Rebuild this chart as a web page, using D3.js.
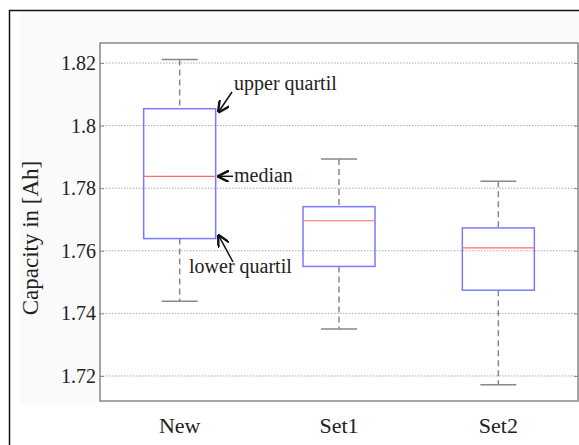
<!DOCTYPE html>
<html>
<head>
<meta charset="utf-8">
<script src="https://cdn.jsdelivr.net/npm/d3@7"></script>
<style>
  body { margin: 0; background: #fff; }
  svg text { font-family: "Liberation Serif", "DejaVu Serif", serif; fill: #222; }
</style>
</head>
<body>
<div class="canvas-container"></div>
<script>
// box plot values
const categories = ["New", "Set1", "Set2"]
const whiskerHigh = [1.8211, 1.7893, 1.7822]
const upperQuartil = [1.8054, 1.7741, 1.7673]
const median = [1.7838, 1.7696, 1.7609]
const lowerQuartil = [1.7639, 1.755, 1.7474]
const whiskerLow = [1.7439, 1.735, 1.7172]
const yTicks = [1.72, 1.74, 1.76, 1.78, 1.8, 1.82]

const w = 579
const h = 445
const m = { left: 100, right: 578, top: 43, bottom: 401 }

const svg = d3
  .select(".canvas-container")
  .append("svg")
  .attr("width", w)
  .attr("height", h)

// faint page panel + outer frame
svg.append("rect")
  .attr("x", 20).attr("y", 12)
  .attr("width", w - 20).attr("height", 391)
  .attr("fill", "#fafafa")
svg.append("path")
  .attr("d", `M9.5,${h} V10.5 H${w}`)
  .attr("fill", "none")
  .attr("stroke", "#111")
  .attr("stroke-width", 1.5)

const x = d3.scaleBand().domain(categories).range([m.left, m.right])
const y = d3.scaleLinear().domain([1.712, 1.8264]).range([m.bottom, m.top])

svg.append("rect")
  .attr("x", m.left).attr("y", m.top)
  .attr("width", m.right - m.left).attr("height", m.bottom - m.top)
  .attr("fill", "#fff")

// dotted grid
svg.append("g")
  .selectAll("line")
  .data(yTicks)
  .enter()
  .append("line")
  .attr("x1", m.left).attr("x2", m.right)
  .attr("y1", (d) => y(d)).attr("y2", (d) => y(d))
  .attr("stroke", "#aaa")
  .attr("stroke-dasharray", "1.5,1.5")

// axes
const yAxis = svg.append("g")
  .attr("transform", `translate(${m.left},0)`)
  .call(d3.axisLeft(y).tickValues(yTicks).tickSize(-4).tickPadding(4).tickFormat((d) => String(+d.toFixed(2))))
yAxis.select(".domain").remove()
yAxis.selectAll("line").attr("stroke", "#888")
yAxis.selectAll("text").style("font-size", "20px").attr("fill", "#222")

const yAxisR = svg.append("g")
  .attr("transform", `translate(${m.right},0)`)
  .call(d3.axisRight(y).tickValues(yTicks).tickSize(-4).tickFormat(""))
yAxisR.select(".domain").remove()
yAxisR.selectAll("line").attr("stroke", "#888")

svg.append("rect")
  .attr("x", m.left).attr("y", m.top)
  .attr("width", m.right - m.left).attr("height", m.bottom - m.top)
  .attr("fill", "none")
  .attr("stroke", "#888")
  .attr("stroke-width", 1.5)

svg.append("g")
  .selectAll("text")
  .data(categories)
  .enter()
  .append("text")
  .attr("x", (d) => x(d) + x.bandwidth() / 2)
  .attr("y", 433)
  .attr("text-anchor", "middle")
  .style("font-size", "22px")
  .text((d) => d)

svg.append("text")
  .attr("transform", `translate(38,238) rotate(-90)`)
  .attr("text-anchor", "middle")
  .style("font-size", "23px")
  .text("Capacity in [Ah]")

// boxes
const bw = 72
const cap = 36
const cx = (i) => x(categories[i]) + x.bandwidth() / 2
const boxes = svg.append("g")
  .selectAll("g")
  .data(categories)
  .enter()
  .append("g")

boxes.append("line")
  .attr("x1", (d, i) => cx(i)).attr("x2", (d, i) => cx(i))
  .attr("y1", (d, i) => y(whiskerHigh[i])).attr("y2", (d, i) => y(upperQuartil[i]))
  .attr("stroke", "#888").attr("stroke-width", 1.5).attr("stroke-dasharray", "6,4")
boxes.append("line")
  .attr("x1", (d, i) => cx(i)).attr("x2", (d, i) => cx(i))
  .attr("y1", (d, i) => y(lowerQuartil[i])).attr("y2", (d, i) => y(whiskerLow[i]))
  .attr("stroke", "#888").attr("stroke-width", 1.5).attr("stroke-dasharray", "6,4")
boxes.append("line")
  .attr("x1", (d, i) => cx(i) - cap / 2).attr("x2", (d, i) => cx(i) + cap / 2)
  .attr("y1", (d, i) => y(whiskerHigh[i])).attr("y2", (d, i) => y(whiskerHigh[i]))
  .attr("stroke", "#888").attr("stroke-width", 1.5)
boxes.append("line")
  .attr("x1", (d, i) => cx(i) - cap / 2).attr("x2", (d, i) => cx(i) + cap / 2)
  .attr("y1", (d, i) => y(whiskerLow[i])).attr("y2", (d, i) => y(whiskerLow[i]))
  .attr("stroke", "#888").attr("stroke-width", 1.5)
boxes.append("rect")
  .attr("x", (d, i) => cx(i) - bw / 2)
  .attr("y", (d, i) => y(upperQuartil[i]))
  .attr("width", bw)
  .attr("height", (d, i) => y(lowerQuartil[i]) - y(upperQuartil[i]))
  .attr("fill", "none")
  .attr("stroke", "#7a7aff")
  .attr("stroke-width", 1.5)
boxes.append("line")
  .attr("x1", (d, i) => cx(i) - bw / 2).attr("x2", (d, i) => cx(i) + bw / 2)
  .attr("y1", (d, i) => y(median[i])).attr("y2", (d, i) => y(median[i]))
  .attr("stroke", "#ff6a6a").attr("stroke-width", 1.2)

// annotations on the first box
svg.append("defs").append("marker")
  .attr("id", "arr")
  .attr("viewBox", "0 0 10 10")
  .attr("refX", 9).attr("refY", 5)
  .attr("markerWidth", 8).attr("markerHeight", 8)
  .attr("orient", "auto")
  .append("path")
  .attr("d", "M0,0 L10,5 L0,10")
  .attr("fill", "none")
  .attr("stroke", "#111")
  .attr("stroke-width", 2)

const bx = cx(0) + bw / 2
const notes = [
  { t: "upper quartil", v: upperQuartil[0], tx: 234, ty: 90, ax: 232, ay: 92, dx: 3, dy: -3 },
  { t: "median", v: median[0], tx: 234, ty: 182, ax: 233, ay: y(median[0]), dx: 3, dy: 0 },
  { t: "lower quartil", v: lowerQuartil[0], tx: 189, ty: 273, ax: 233, ay: 262, dx: 3, dy: 3 },
]
notes.forEach((n) => {
  svg.append("line")
    .attr("x1", n.ax).attr("y1", n.ay)
    .attr("x2", bx + n.dx).attr("y2", y(n.v) - n.dy)
    .attr("stroke", "#111").attr("stroke-width", 1.5)
    .attr("marker-end", "url(#arr)")
  svg.append("text")
    .attr("x", n.tx).attr("y", n.ty)
    .style("font-size", "20px")
    .text(n.t)
})
</script>
</body>
</html>
